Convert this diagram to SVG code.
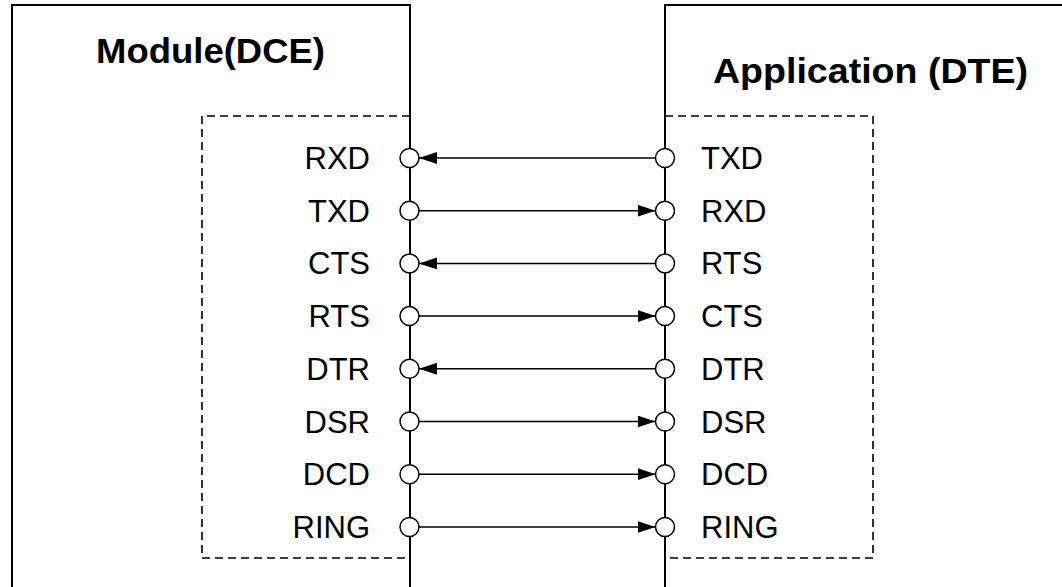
<svg xmlns="http://www.w3.org/2000/svg" width="1062" height="587" viewBox="0 0 1062 587">
<style>
.box{fill:none;stroke:#000;stroke-width:2}
.dash{fill:none;stroke:#000;stroke-width:1.6;stroke-dasharray:8 5}
.pin{fill:#fff;stroke:#000;stroke-width:1.5}
.wire{stroke:#000;stroke-width:1.5;fill:none;marker-end:url(#ah)}
.title{font-family:"Liberation Sans",Arial,sans-serif;font-weight:bold;font-size:35px;fill:#000}
.lbl{font-family:"Liberation Sans",Arial,sans-serif;font-size:31px;fill:#000}
.l{text-anchor:end}
</style>
<defs>
<marker id="ah" markerUnits="userSpaceOnUse" markerWidth="18" markerHeight="12" refX="18" refY="6" orient="auto">
<path d="M0,0 L18,6 L0,12 z" fill="#000"/>
</marker>
</defs>
<rect width="1062" height="587" fill="#fff"/>
<g id="module">
<path class="box" d="M12,600 V5 H410 V600"/>
<text class="title" x="96" y="63" textLength="229" lengthAdjust="spacingAndGlyphs">Module(DCE)</text>
<path class="dash" d="M410,116 H202 V558 H410"/>
</g>
<g id="application">
<path class="box" d="M665,600 V5 H1070"/>
<text class="title" x="713" y="83" textLength="315" lengthAdjust="spacingAndGlyphs">Application (DTE)</text>
<path class="dash" d="M665,116 H873 V558 H665"/>
</g>
<g id="connectors">
<line class="wire" x1="655.5" y1="158" x2="419" y2="158"/>
<line class="wire" x1="419" y1="210.7" x2="655.5" y2="210.7"/>
<line class="wire" x1="655.5" y1="263.4" x2="419" y2="263.4"/>
<line class="wire" x1="419" y1="316.1" x2="655.5" y2="316.1"/>
<line class="wire" x1="655.5" y1="368.8" x2="419" y2="368.8"/>
<line class="wire" x1="419" y1="421.5" x2="655.5" y2="421.5"/>
<line class="wire" x1="419" y1="474.2" x2="655.5" y2="474.2"/>
<line class="wire" x1="419" y1="527" x2="655.5" y2="527"/>
</g>
<g id="module-pins">
<circle class="pin" cx="409.5" cy="158" r="9.5"/>
<circle class="pin" cx="409.5" cy="210.7" r="9.5"/>
<circle class="pin" cx="409.5" cy="263.4" r="9.5"/>
<circle class="pin" cx="409.5" cy="316.1" r="9.5"/>
<circle class="pin" cx="409.5" cy="368.8" r="9.5"/>
<circle class="pin" cx="409.5" cy="421.5" r="9.5"/>
<circle class="pin" cx="409.5" cy="474.2" r="9.5"/>
<circle class="pin" cx="409.5" cy="527" r="9.5"/>
<text class="lbl l" x="370" y="169">RXD</text>
<text class="lbl l" x="370" y="221.7">TXD</text>
<text class="lbl l" x="370" y="274.4">CTS</text>
<text class="lbl l" x="370" y="327.1">RTS</text>
<text class="lbl l" x="370" y="379.8">DTR</text>
<text class="lbl l" x="370" y="432.5">DSR</text>
<text class="lbl l" x="370" y="485.2">DCD</text>
<text class="lbl l" x="370" y="538">RING</text>
</g>
<g id="application-pins">
<circle class="pin" cx="665" cy="158" r="9.5"/>
<circle class="pin" cx="665" cy="210.7" r="9.5"/>
<circle class="pin" cx="665" cy="263.4" r="9.5"/>
<circle class="pin" cx="665" cy="316.1" r="9.5"/>
<circle class="pin" cx="665" cy="368.8" r="9.5"/>
<circle class="pin" cx="665" cy="421.5" r="9.5"/>
<circle class="pin" cx="665" cy="474.2" r="9.5"/>
<circle class="pin" cx="665" cy="527" r="9.5"/>
<text class="lbl" x="701" y="169">TXD</text>
<text class="lbl" x="701" y="221.7">RXD</text>
<text class="lbl" x="701" y="274.4">RTS</text>
<text class="lbl" x="701" y="327.1">CTS</text>
<text class="lbl" x="701" y="379.8">DTR</text>
<text class="lbl" x="701" y="432.5">DSR</text>
<text class="lbl" x="701" y="485.2">DCD</text>
<text class="lbl" x="701" y="538">RING</text>
</g>
</svg>
